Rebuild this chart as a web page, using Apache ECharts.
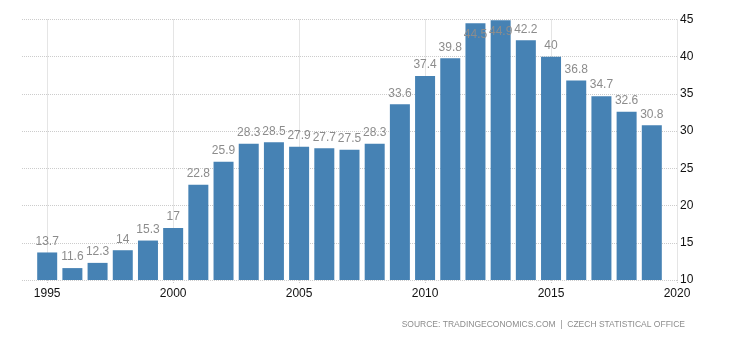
<!DOCTYPE html>
<html>
<head>
<meta charset="utf-8">
<script src="https://cdn.jsdelivr.net/npm/echarts@6/dist/echarts.min.js"></script>
<style>html,body{margin:0;padding:0;background:#fff;}#c{width:730px;height:340px;}</style>
</head>
<body>
<div id="c"></div>
<script>
var years = [1995,1996,1997,1998,1999,2000,2001,2002,2003,2004,2005,2006,2007,2008,2009,2010,2011,2012,2013,2014,2015,2016,2017,2018,2019];
var values = [13.7,11.6,12.3,14,15.3,17,22.8,25.9,28.3,28.5,27.9,27.7,27.5,28.3,33.6,37.4,39.8,44.5,44.9,42.2,40,36.8,34.7,32.6,30.8];
var yTicks = [10,15,20,25,30,35,40,45];
var axisStartYear = 1994, axisEndYear = 2020;
var sourceText = 'SOURCE: TRADINGECONOMICS.COM  |  CZECH STATISTICAL OFFICE';

var cats = [];
for (var y = axisStartYear; y <= axisEndYear; y++) cats.push(String(y));
var seriesData = cats.map(function (c) {
  var i = years.indexOf(+c);
  if (i < 0) return null;
  var v = values[i];
  var item = { value: v };
  if (v > 44) {
    item.label = { position: 'insideTop', distance: 5 };
  }
  return item;
});
var isFive = function (idx) { return (axisStartYear + idx) % 5 === 0; };

var chart = echarts.init(document.getElementById('c'));
chart.setOption({
  animation: false,
  backgroundColor: '#fff',
  grid: { left: 22, right: 53, top: 19.5, bottom: 60, containLabel: false },
  xAxis: {
    type: 'category',
    data: cats,
    boundaryGap: false,
    axisLine: { show: false },
    axisTick: { show: true, interval: isFive, length: 4, lineStyle: { color: '#ccc', type: 'dotted' } },
    axisLabel: { interval: isFive, color: '#111', fontSize: 12, fontFamily: 'Liberation Sans, Arial', margin: 8 },
    splitLine: { show: true, interval: isFive, lineStyle: { color: '#ccc', type: 'dotted' } }
  },
  yAxis: {
    type: 'value',
    position: 'right',
    min: yTicks[0],
    max: yTicks[yTicks.length - 1],
    interval: 5,
    axisLine: { show: false },
    axisTick: { show: false },
    axisLabel: { color: '#111', fontSize: 12, fontFamily: 'Liberation Sans, Arial', margin: 3 },
    splitLine: { show: true, lineStyle: { color: '#ccc', type: 'dotted' } }
  },
  series: [{
    type: 'bar',
    data: seriesData,
    barWidth: 20,
    itemStyle: { color: '#4682B4' },
    label: {
      show: true,
      position: 'top',
      distance: 5,
      color: '#8c8c8c',
      fontSize: 12,
      fontFamily: 'Liberation Sans, Arial'
    }
  }],
  graphic: [{
    type: 'text',
    right: 45,
    top: 320,
    style: { text: sourceText, fill: '#8c8c8c', fontSize: 8.5, fontFamily: 'Liberation Sans, Arial' }
  }]
});
</script>
</body>
</html>
